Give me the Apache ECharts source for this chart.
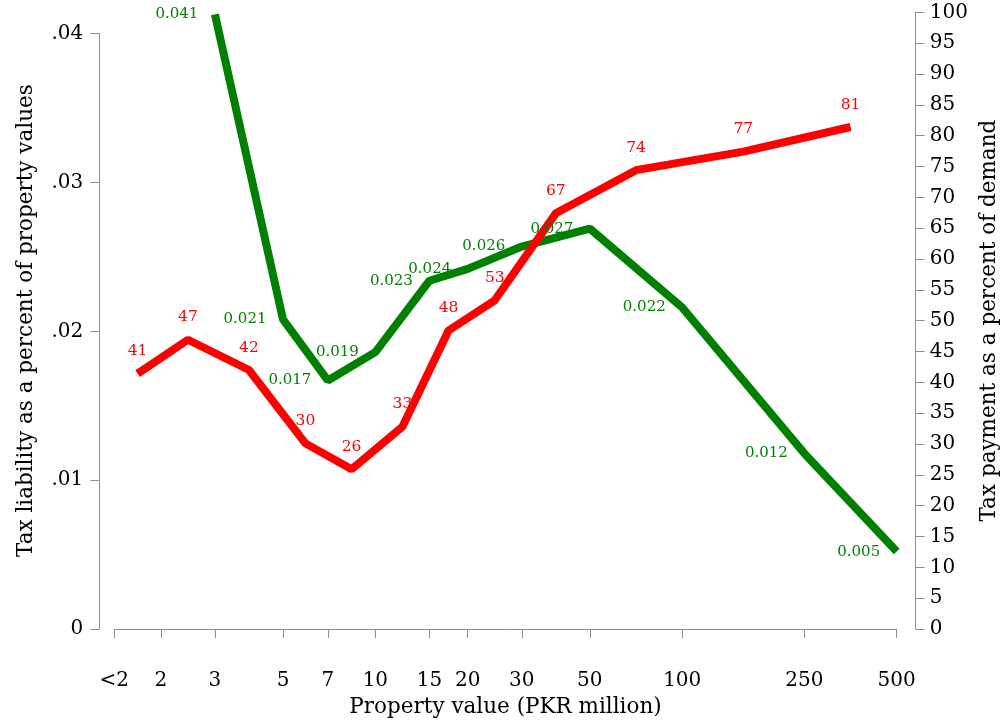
<!DOCTYPE html>
<html>
<head>
<meta charset="utf-8">
<title>Tax liability and tax payment by property value</title>
<script src="https://cdn.jsdelivr.net/npm/echarts@6/dist/echarts.min.js"></script>
<style>
html, body { margin: 0; padding: 0; background: #fff; }
#main { width: 1005px; height: 726px; }
</style>
</head>
<body>
<div id="main"></div>
<script>
// property value ticks (PKR million); "<2" sits half-way below 2 on the log scale
var xTickVals = [1.41, 2, 3, 5, 7, 10, 15, 20, 30, 50, 100, 250, 500];
var xTickLabels = ['<2', '2', '3', '5', '7', '10', '15', '20', '30', '50', '100', '250', '500'];

// tax liability as share of property value, plotted at the bin edges 3 .. 500
var liabilityX = [3, 5, 7, 10, 15, 20, 30, 50, 100, 250, 500];
var liability = [0.0413, 0.0208, 0.0167, 0.0186, 0.0234, 0.0242, 0.0257, 0.0269, 0.0216, 0.0118, 0.0052];

// tax payment as percent of demand, one value per bin (plotted at the bin middle)
var payment = [41.4, 46.9, 42, 30.1, 25.9, 32.8, 48.4, 53.3, 67.4, 74.4, 77.4, 81.4];

var leftTicks = [0, 0.01, 0.02, 0.03, 0.04];
var leftTickLabels = ['0', '.01', '.02', '.03', '.04'];

var FONT = 'DejaVu Serif';
var AXIS_GREY = '#8f8f8f';

function lg(v) { return Math.log(v) / Math.LN10; }

var xMin = lg(xTickVals[0]);
var xMax = lg(xTickVals[xTickVals.length - 1]);
var tickPos = xTickVals.map(lg);

// bin middles on the log scale
var paymentX = [];
for (var i = 0; i < xTickVals.length - 1; i++) {
	paymentX.push(Math.sqrt(xTickVals[i] * xTickVals[i + 1]));
}

var greenData = liabilityX.map(function (v, i) { return [lg(v), liability[i]]; });
var redData = paymentX.map(function (v, i) { return [lg(v), payment[i]]; });

function xLabel(val) {
	for (var k = 0; k < tickPos.length; k++) {
		if (Math.abs(tickPos[k] - val) < 1e-6) return xTickLabels[k];
	}
	return '';
}

var chart = echarts.init(document.getElementById('main'));

var option = {
	animation: false,
	backgroundColor: '#fff',
	grid: [
		{ left: 114.3, right: 108.3, top: 12.3, bottom: 97, outerBoundsMode: 'none' },
		{ left: 114.3, right: 108.3, top: 33.7, bottom: 97, outerBoundsMode: 'none' }
	],
	xAxis: [{
		gridIndex: 0,
		type: 'value',
		min: xMin,
		max: xMax,
		offset: 18,
		name: 'Property value (PKR million)',
		nameLocation: 'middle',
		nameGap: 49,
		nameTextStyle: { fontFamily: FONT, fontSize: 21.5, color: '#000' },
		axisLine: { lineStyle: { color: AXIS_GREY, width: 1 } },
		axisTick: { show: true, length: 9, customValues: tickPos, lineStyle: { color: AXIS_GREY } },
		axisLabel: {
			customValues: tickPos,
			margin: 24,
			fontFamily: FONT,
			fontSize: 20,
			color: '#000',
			formatter: xLabel
		},
		splitLine: { show: false }
	}, {
		gridIndex: 1,
		type: 'value',
		min: xMin,
		max: xMax,
		show: false
	}],
	yAxis: [{
		// right axis: payment
		gridIndex: 0,
		type: 'value',
		position: 'right',
		min: 0,
		max: 100,
		interval: 5,
		offset: 19,
		name: 'Tax payment as a percent of demand',
		nameLocation: 'middle',
		nameRotate: 90,
		nameGap: 58,
		nameTextStyle: { fontFamily: FONT, fontSize: 21.5, color: '#000' },
		axisLine: { show: true, lineStyle: { color: AXIS_GREY, width: 1 } },
		axisTick: { show: true, length: 9, lineStyle: { color: AXIS_GREY } },
		axisLabel: { margin: 14, fontFamily: FONT, fontSize: 20, color: '#000' },
		splitLine: { show: false }
	}, {
		// left title only, centred on the whole plot region
		gridIndex: 0,
		type: 'value',
		position: 'left',
		offset: 15,
		min: 0,
		max: 1,
		name: 'Tax liability as a percent of property values',
		nameLocation: 'middle',
		nameGap: 62,
		nameTextStyle: { fontFamily: FONT, fontSize: 21.5, color: '#000' },
		axisLine: { show: false },
		axisTick: { show: false },
		axisLabel: { show: false },
		splitLine: { show: false }
	}, {
		// left axis: liability
		gridIndex: 1,
		type: 'value',
		position: 'left',
		min: 0,
		max: 0.04,
		interval: 0.01,
		offset: 15,
		axisLine: { show: true, lineStyle: { color: AXIS_GREY, width: 1 } },
		axisTick: { show: true, length: 9, lineStyle: { color: AXIS_GREY } },
		axisLabel: {
			margin: 16,
			fontFamily: FONT,
			fontSize: 20,
			color: '#000',
			formatter: function (v) {
				for (var k = 0; k < leftTicks.length; k++) {
					if (Math.abs(leftTicks[k] - v) < 1e-9) return leftTickLabels[k];
				}
				return '';
			}
		},
		splitLine: { show: false }
	}],
	series: [{
		name: 'liability',
		type: 'line',
		xAxisIndex: 1,
		yAxisIndex: 2,
		clip: false,
		data: greenData,
		symbol: 'circle',
		symbolSize: 1,
		showSymbol: true,
		itemStyle: { color: 'rgba(0,0,0,0)' },
		lineStyle: { color: '#008000', width: 8 },
		label: {
			show: true,
			position: 'left',
			distance: 16,
			fontFamily: FONT,
			fontSize: 15,
			color: '#008000',
			formatter: function (p) { return p.value[1].toFixed(3); }
		}
	}, {
		name: 'payment',
		type: 'line',
		xAxisIndex: 0,
		yAxisIndex: 0,
		data: redData,
		symbol: 'circle',
		symbolSize: 1,
		showSymbol: true,
		itemStyle: { color: 'rgba(0,0,0,0)' },
		lineStyle: { color: '#ff0000', width: 8 },
		label: {
			show: true,
			position: 'top',
			distance: 14,
			fontFamily: FONT,
			fontSize: 15.5,
			color: '#ff0000',
			formatter: function (p) { return Math.round(p.value[1]); }
		}
	}]
};

chart.setOption(option);
</script>
</body>
</html>
